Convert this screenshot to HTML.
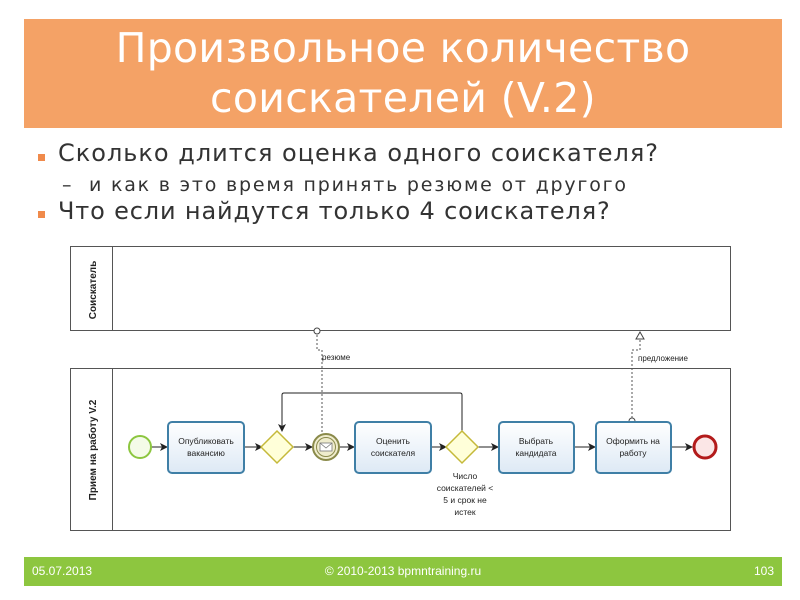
<!DOCTYPE html>
<html><head><meta charset="utf-8"><style>
body{margin:0;width:800px;height:600px;background:#fff;position:relative;overflow:hidden;font-family:"Liberation Sans","DejaVu Sans",sans-serif}
.t{position:absolute;left:24px;top:19px;width:758px;height:109px;background:#f4a266;color:#fff;text-align:center;font-family:"DejaVu Sans",sans-serif;font-size:41px;line-height:50px;padding-top:4px;box-sizing:border-box;font-weight:normal;letter-spacing:0.3px}
.b{position:absolute;left:58px;font-family:"DejaVu Sans",sans-serif;color:#333;font-size:24px;letter-spacing:1px;white-space:nowrap}
.sq{position:absolute;left:38px;width:7px;height:7px;background:#f08a4b}
.f{position:absolute;left:24px;top:557px;width:758px;height:29px;background:#8dc63f;color:#fff;font-size:12px;line-height:29px}
</style></head><body>
<div class="t">Произвольное количество<br>соискателей (V.2)</div>
<div class="sq" style="top:154px"></div>
<div class="b" style="top:139px">Сколько длится оценка одного соискателя?</div>
<div class="b" style="top:174px;left:62px;font-size:19px;letter-spacing:1.8px">–&nbsp; и как в это время принять резюме от другого</div>
<div class="sq" style="top:211px"></div>
<div class="b" style="top:197px;letter-spacing:0.85px">Что если найдутся только 4 соискателя?</div>
<svg width="800" height="600" style="position:absolute;left:0;top:0" font-family="Liberation Sans, sans-serif">
<defs><marker id="a" markerWidth="8" markerHeight="8" refX="7" refY="4" orient="auto"><path d="M0,0L8,4L0,8L2,4z" fill="#222"/></marker>
<linearGradient id="tg" x1="0" y1="0" x2="0" y2="1"><stop offset="0" stop-color="#fff"/><stop offset="1" stop-color="#dde9f5"/></linearGradient></defs>
<g fill="none" stroke="#555" stroke-width="1">
<rect x="70.5" y="246.5" width="660" height="84"/><line x1="112.5" y1="246" x2="112.5" y2="331"/>
<rect x="70.5" y="368.5" width="660" height="162"/><line x1="112.5" y1="368" x2="112.5" y2="531"/>
</g>
<text transform="translate(96,290) rotate(-90)" text-anchor="middle" font-size="10" font-weight="bold" fill="#222">Соискатель</text>
<text transform="translate(96,450) rotate(-90)" text-anchor="middle" font-size="10" font-weight="bold" fill="#222">Прием на работу V.2</text>
<g stroke="#222" stroke-width="1" fill="none" marker-end="url(#a)">
<line x1="151" y1="447" x2="167" y2="447"/>
<line x1="244" y1="447" x2="262" y2="447"/>
<line x1="293" y1="447" x2="312" y2="447"/>
<line x1="340" y1="447" x2="354" y2="447"/>
<line x1="431" y1="447" x2="446" y2="447"/>
<line x1="478" y1="447" x2="498" y2="447"/>
<line x1="574" y1="447" x2="595" y2="447"/>
<line x1="671" y1="447" x2="692" y2="447"/>
<path d="M462,432V395Q462,393 460,393H284Q282,393 282,395V431"/>
</g>
<g stroke="#555" stroke-dasharray="2,2" fill="none">
<path d="M317,335V350H322V434"/>
<path d="M632,418V350H640V336"/>
</g>
<circle cx="317" cy="331" r="3" fill="#fff" stroke="#444"/>
<circle cx="632" cy="421" r="3" fill="#fff" stroke="#444"/>
<path d="M636,339L640,332L644,339z" fill="#fff" stroke="#444"/>
<text x="322" y="360" font-size="8" fill="#222">резюме</text>
<text x="638" y="361" font-size="8" fill="#222">предложение</text>
<circle cx="140" cy="447" r="11" fill="#f4fbe8" stroke="#8cc63f" stroke-width="2"/>
<circle cx="705" cy="447" r="11" fill="#fbe6e6" stroke="#b31b1b" stroke-width="3"/>
<g stroke="#3f7fa6" stroke-width="2" fill="url(#tg)">
<rect x="168" y="422" width="76" height="51" rx="4"/>
<rect x="355" y="422" width="76" height="51" rx="4"/>
<rect x="499" y="422" width="75" height="51" rx="4"/>
<rect x="596" y="422" width="75" height="51" rx="4"/>
</g>
<g stroke="#c5b93a" stroke-width="1.5" fill="#ffffd9">
<path d="M277,431L293,447L277,463L261,447z"/>
<path d="M462,431L478,447L462,463L446,447z"/>
</g>
<circle cx="326" cy="447" r="13" fill="#efeccd" stroke="#8a8a4a" stroke-width="2"/>
<circle cx="326" cy="447" r="9.5" fill="none" stroke="#8a8a4a"/>
<rect x="320" y="443" width="12" height="8" fill="#fff" stroke="#777" stroke-width="0.8"/>
<path d="M320,443L326,448L332,443" fill="none" stroke="#777" stroke-width="0.8"/>
<g font-size="8.5" fill="#222" text-anchor="middle">
<text x="206" y="444">Опубликовать</text><text x="206" y="456">вакансию</text>
<text x="393" y="444">Оценить</text><text x="393" y="456">соискателя</text>
<text x="536" y="444">Выбрать</text><text x="536" y="456">кандидата</text>
<text x="633" y="444">Оформить на</text><text x="633" y="456">работу</text>
<text x="465" y="479">Число</text><text x="465" y="491">соискателей &lt;</text><text x="465" y="503">5 и срок не</text><text x="465" y="515">истек</text>
</g>
</svg>
<div class="f"><span style="position:absolute;left:8px">05.07.2013</span><span style="position:absolute;left:0;width:758px;text-align:center">© 2010-2013 bpmntraining.ru</span><span style="position:absolute;right:8px">103</span></div>
</body></html>
